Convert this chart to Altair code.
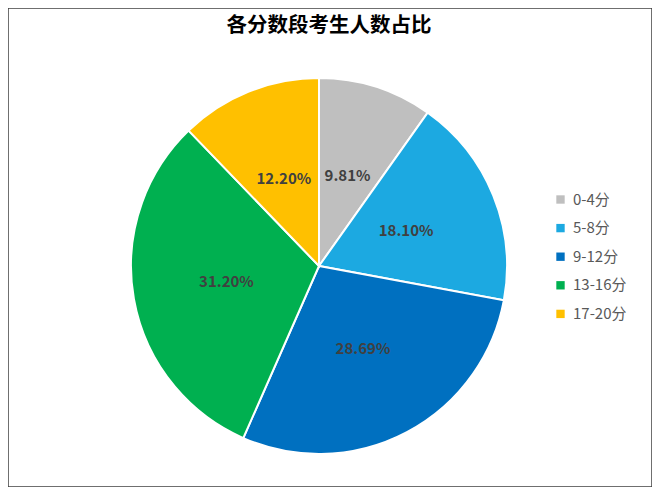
import altair as alt
import pandas as pd

categories = ["0-4分", "5-8分", "9-12分", "13-16分", "17-20分"]
values = [9.81, 18.10, 28.69, 31.20, 12.20]
colors = ["#BFBFBF", "#1CA9E1", "#0070C0", "#00B050", "#FFC000"]
title_text = "各分数段考生人数占比"

df = pd.DataFrame({
    "cat": categories,
    "val": values,
    "order": list(range(len(categories))),
    "label": [f"{v:.2f}%" for v in values],
})

W, H = 644, 479
CX, CY, R = 311, 258, 188
FONT = "Noto Sans CJK SC"

color_scale = alt.Scale(domain=categories, range=colors)

base = alt.Chart(df).encode(
    theta=alt.Theta("val:Q", stack=True),
    order=alt.Order("order:Q"),
)

pie = base.mark_arc(outerRadius=R, stroke="white", strokeWidth=2).encode(
    x=alt.value(CX),
    y=alt.value(CY),
    color=alt.Color(
        "cat:N",
        scale=color_scale,
        sort=categories,
        legend=alt.Legend(
            title=None,
            orient="none",
            legendX=545,
            legendY=184,
            symbolType="square",
            symbolSize=70,
            symbolStrokeWidth=0,
            labelFontSize=15,
            labelFont=FONT,
            labelColor="#595959",
            rowPadding=12.6,
            labelOffset=5,
        ),
    ),
)

labels = base.mark_text(
    radius=94, fontSize=15, fontWeight="bold", font=FONT, color="#404040"
).encode(
    x=alt.value(CX),
    y=alt.value(CY),
    text="label:N",
)

title = alt.Chart(pd.DataFrame({"t": [title_text]})).mark_text(
    fontSize=20.5, fontWeight="bold", font=FONT, color="#000000"
).encode(x=alt.value(321), y=alt.value(18), text="t:N")

chart = (
    alt.layer(pie, labels, title)
    .properties(width=W, height=H, padding=0, autosize=alt.AutoSizeParams(type="none"))
    .configure_view(stroke="#404040", strokeWidth=1.5)
)

chart.save("out.html", embed_options={"renderer": "svg", "actions": False})
